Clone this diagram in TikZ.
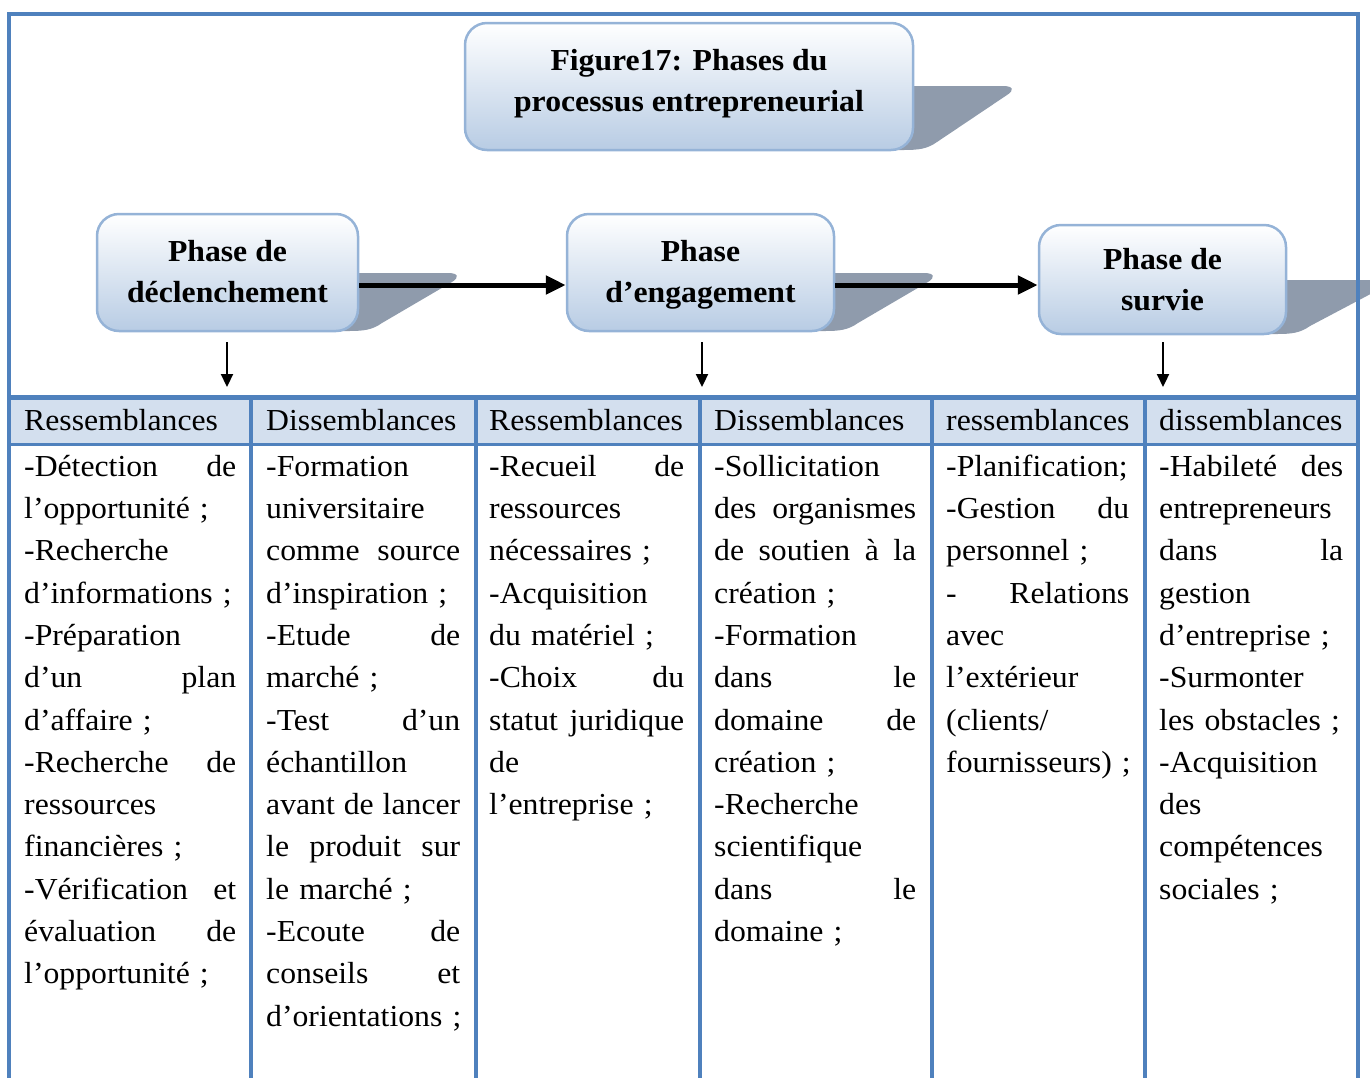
\documentclass[tikz,border=0pt]{standalone}
\usepackage{fontspec}
\setmainfont{Liberation Serif}[FakeStretch=1.04]
\usetikzlibrary{arrows.meta}
\definecolor{frameblue}{RGB}{79,129,189}
\definecolor{headfill}{RGB}{211,223,238}
\definecolor{bordc}{RGB}{149,179,215}
\definecolor{boxblue}{RGB}{184,204,228}
\definecolor{shadowc}{RGB}{143,155,172}
\newcommand\cw{200pt}
\newcommand\jline[1]{\leavevmode\hbox to\cw{\spaceskip=0.25em plus 1fil\relax #1}}
\newcommand\lline[1]{\leavevmode\hbox to\cw{#1\hfil}}
\newcommand\boxshadow[3]{%
  \fill[shadowc] (#1-30,#3) -- (#1-30,#2) -- (#1+90,#2)
    .. controls (#1+100,#2) and (#1+102,#2+4) .. (#1+94,#2+9)
    -- (#1+24,#3-8) .. controls (#1+14,#3-1) and (#1+6,#3) .. (#1-10,#3) -- cycle;}
\begin{document}
\begin{tikzpicture}[x=1pt,y=-1pt,
  phasebox/.style={draw=bordc,line width=2.5pt,rounded corners=22pt,
    top color=white,bottom color=boxblue,align=center,inner sep=0pt,
    text height=62pt,text depth=3pt,
    font=\bfseries\fontsize{30.5}{41}\selectfont},
  tabline/.style={draw=frameblue,line width=3.5pt},
  bigarrow/.style={line width=5pt,-{Triangle[length=20pt,width=18pt]}},
  smallarrow/.style={line width=2.2pt,-{Triangle[length=13pt,width=12pt]}},
  hdr/.style={anchor=base west,inner sep=0pt,font=\fontsize{30.5}{42.3}\selectfont},
  cell/.style={anchor=north west,inner sep=0pt,align=left,font=\fontsize{30.5}{42.3}\selectfont}]
\useasboundingbox (0,0) rectangle (1370,1077);
\begin{scope}
\clip (0,0) rectangle (1370,1077);
% shadows
\boxshadow{913}{86}{150}
\boxshadow{358}{273}{331}
\boxshadow{834}{273}{331}
\boxshadow{1286}{280}{334}
% boxes
\node[phasebox,minimum width=448pt,minimum height=127pt,text depth=13pt] (title) at (689,86.5)
  {Figure17: Phases du\\processus entrepreneurial};
\node[phasebox,minimum width=261pt,minimum height=117pt] (p1) at (227.5,272.5)
  {Phase de\\déclenchement};
\node[phasebox,minimum width=267pt,minimum height=117pt] (p2) at (700.5,272.5)
  {Phase\\d’engagement};
\node[phasebox,minimum width=247pt,minimum height=109pt,text depth=0pt] (p3) at (1162.5,279.5)
  {Phase de\\survie};
% arrows
\draw[bigarrow] ([yshift=-12.5pt]p1.east) -- ([yshift=-12.5pt]p2.west);
\draw[bigarrow] ([yshift=-12.5pt]p2.east) -- ([yshift=-5.5pt]p3.west);
\coordinate (a1) at (227,387);
\coordinate (a2) at (702,387);
\coordinate (a3) at (1163,387);
\draw[smallarrow] (p1.south -| a1) ++(0,10) -- (a1);
\draw[smallarrow] (p2.south -| a2) ++(0,10) -- (a2);
\draw[smallarrow] (p3.south -| a3) ++(0,7) -- (a3);
% table
\fill[headfill] (9,397) rectangle (1358,445);
\draw[tabline] (9,14) -- (1358,14);
\draw[tabline] (9,12.25) -- (9,1085);
\draw[tabline] (1358,12.25) -- (1358,1085);
\draw[tabline,line width=5pt] (9,397.5) -- (1358,397.5);
\draw[tabline] (9,444.5) -- (1358,444.5);
\foreach \cx in {251,476,700,932,1145} {\draw[tabline] (\cx,397) -- (\cx,1085);}
% headers
\node[hdr] (h1) at (24,430) {Ressemblances};
\node[hdr] (h2) at (266,430) {Dissemblances};
\node[hdr] (h3) at (489,430) {Ressemblances};
\node[hdr] (h4) at (714,430) {Dissemblances};
\node[hdr] (h5) at (946,430) {ressemblances};
\node[hdr] (h6) at (1159,430) {dissemblances};
% cells
\node[cell,text width=212pt] (c1) at (24,446.4) {\renewcommand\cw{212pt}%
\strut\jline{-Détection de}\\
\lline{l’opportunité ;}\\
\lline{-Recherche}\\
\lline{d’informations ;}\\
\lline{-Préparation}\\
\jline{d’un plan}\\
\lline{d’affaire ;}\\
\jline{-Recherche de}\\
\lline{ressources}\\
\lline{financières ;}\\
\jline{-Vérification et}\\
\jline{évaluation de}\\
\lline{l’opportunité ;}};
\node[cell,text width=194pt] (c2) at (266,446.4) {\renewcommand\cw{194pt}%
\strut\lline{-Formation}\\
\lline{universitaire}\\
\jline{comme source}\\
\lline{d’inspiration ;}\\
\jline{-Etude de}\\
\lline{marché ;}\\
\jline{-Test d’un}\\
\lline{échantillon}\\
\jline{avant de lancer}\\
\jline{le produit sur}\\
\lline{le marché ;}\\
\jline{-Ecoute de}\\
\jline{conseils et}\\
\lline{d’orientations ;}};
\node[cell,text width=195pt] (c3) at (489,446.4) {\renewcommand\cw{195pt}%
\strut\jline{-Recueil de}\\
\lline{ressources}\\
\lline{nécessaires ;}\\
\lline{-Acquisition}\\
\lline{du matériel ;}\\
\jline{-Choix du}\\
\jline{statut juridique}\\
\lline{de}\\
\lline{l’entreprise ;}};
\node[cell,text width=202pt] (c4) at (714,446.4) {\renewcommand\cw{202pt}%
\strut\lline{-Sollicitation}\\
\jline{des organismes}\\
\jline{de soutien à la}\\
\lline{création ;}\\
\lline{-Formation}\\
\jline{dans le}\\
\jline{domaine de}\\
\lline{création ;}\\
\lline{-Recherche}\\
\lline{scientifique}\\
\jline{dans le}\\
\lline{domaine ;}};
\node[cell,text width=183pt] (c5) at (946,446.4) {\renewcommand\cw{183pt}%
\strut\lline{-Planification;}\\
\jline{-Gestion du}\\
\lline{personnel ;}\\
\jline{- Relations}\\
\lline{avec}\\
\lline{l’extérieur}\\
\lline{(clients/}\\
\lline{fournisseurs) ;}};
\node[cell,text width=184pt] (c6) at (1159,446.4) {\renewcommand\cw{184pt}%
\strut\jline{-Habileté des}\\
\lline{entrepreneurs}\\
\jline{dans la}\\
\lline{gestion}\\
\lline{d’entreprise ;}\\
\lline{-Surmonter}\\
\lline{les obstacles ;}\\
\lline{-Acquisition}\\
\lline{des}\\
\lline{compétences}\\
\lline{sociales ;}};
\end{scope}
\end{tikzpicture}
\end{document}
